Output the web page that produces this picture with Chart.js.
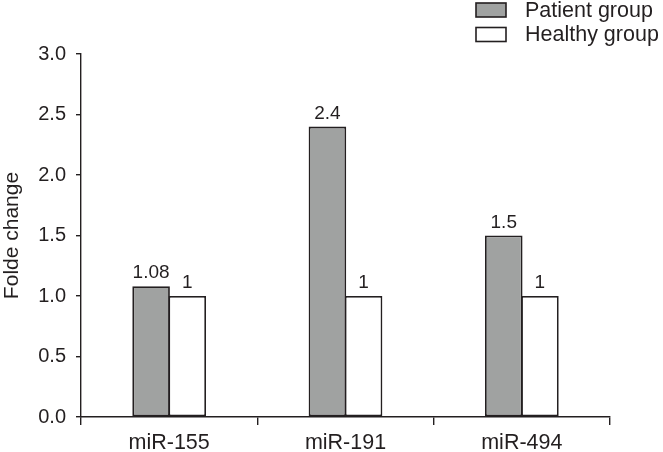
<!DOCTYPE html>
<html>
<head>
<meta charset="utf-8">
<script src="https://cdn.jsdelivr.net/npm/chart.js@4.4.0/dist/chart.umd.min.js"></script>
<style>
html,body{margin:0;padding:0;background:#fff;}
#wrap{width:663px;height:452px;}
</style>
</head>
<body>
<div id="wrap"><canvas id="c" width="663" height="452"></canvas></div>
<script>
const categories = ["miR-155", "miR-191", "miR-494"];
const patientValues = [1.08, 2.4, 1.5];
const healthyValues = [1, 1, 1];
const seriesNames = ["Patient group", "Healthy group"];
const yTicks = [0, 0.5, 1.0, 1.5, 2.0, 2.5, 3.0];

const INK = "#231f20";
const FONT = "'Liberation Sans', Arial, sans-serif";

const valueLabels = {
  id: "valueLabels",
  afterDatasetsDraw(chart) {
    const ctx = chart.ctx;
    ctx.save();
    ctx.font = "19px " + FONT;
    ctx.fillStyle = INK;
    ctx.textAlign = "center";
    ctx.textBaseline = "alphabetic";
    chart.data.datasets.forEach((ds, i) => {
      const meta = chart.getDatasetMeta(i);
      meta.data.forEach((bar, j) => {
        ctx.fillText(String(ds.data[j]), bar.x, bar.y - 8);
      });
    });
    ctx.restore();
  }
};

const boxLegend = {
  id: "boxLegend",
  afterDraw(chart) {
    const ctx = chart.ctx;
    ctx.save();
    ctx.font = "21.5px " + FONT;
    ctx.textBaseline = "middle";
    ctx.textAlign = "left";
    chart.data.datasets.forEach((ds, i) => {
      const y = 3 + i * 24.5;
      ctx.fillStyle = ds.backgroundColor;
      ctx.fillRect(476, y, 30, 14);
      ctx.strokeStyle = INK;
      ctx.lineWidth = 1.6;
      ctx.strokeRect(476, y, 30, 14);
      ctx.fillStyle = INK;
      ctx.fillText(ds.label, 525, y + 8);
    });
    ctx.restore();
  }
};

new Chart(document.getElementById("c"), {
  type: "bar",
  data: {
    labels: categories,
    datasets: [
      { label: seriesNames[0], data: patientValues, backgroundColor: "#a0a2a1", borderColor: INK, borderWidth: 1.8, borderSkipped: false, categoryPercentage: 0.41, barPercentage: 1.04 },
      { label: seriesNames[1], data: healthyValues, backgroundColor: "#ffffff", borderColor: INK, borderWidth: 1.8, borderSkipped: false, categoryPercentage: 0.41, barPercentage: 1.04 }
    ]
  },
  options: {
    responsive: false,
    animation: false,
    layout: { padding: { top: 54, right: 53, left: 0, bottom: 0 } },
    plugins: { legend: { display: false }, tooltip: { enabled: false } },
    scales: {
      x: {
        afterFit(s) { s.height = 35; },
        border: { display: true, color: INK, width: 1.4 },
        grid: { display: true, offset: true, drawOnChartArea: false, drawTicks: true, tickLength: 8, color: INK, lineWidth: 1.4 },
        ticks: { color: INK, font: { size: 21.5, family: FONT }, padding: 5 }
      },
      y: {
        min: 0, max: 3,
        afterFit(s) { s.width = 81; },
        afterBuildTicks(s) { s.ticks = yTicks.map(v => ({ value: v })); },
        border: { display: true, color: INK, width: 1.4 },
        grid: { display: true, drawOnChartArea: false, drawTicks: true, tickLength: 5, color: INK, lineWidth: 1.4 },
        ticks: { color: INK, font: { size: 20, family: FONT }, padding: 10, callback: v => v.toFixed(1) },
        title: { display: true, text: "Folde change", color: INK, font: { size: 21, family: FONT }, padding: 0 }
      }
    }
  },
  plugins: [valueLabels, boxLegend]
});
</script>
</body>
</html>
